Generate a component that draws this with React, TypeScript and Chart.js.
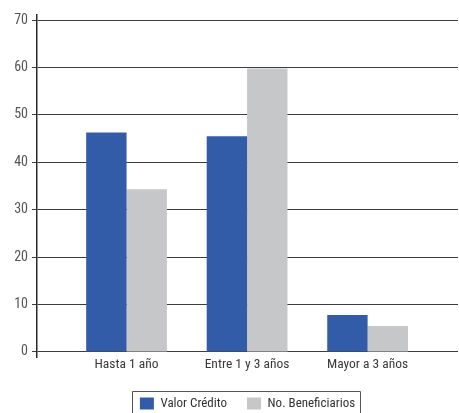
import React, { useEffect, useRef } from "react";
import { Chart, registerables } from "chart.js";

Chart.register(...registerables);

const categories = ["Hasta 1 año", "Entre 1 y 3 años", "Mayor a 3 años"];
const valorCredito = [46.3, 45.5, 7.8];
const noBeneficiarios = [34.3, 59.8, 5.5];
const yTicks = [0, 10, 20, 30, 40, 50, 60, 70];
const seriesNames = ["Valor Crédito", "No. Beneficiarios"];

const FONT = "'Roboto Condensed', sans-serif";

const legendBorder = {
  id: "legendBorder",
  afterDraw(chart: any) {
    const lg = chart.legend;
    if (!lg || !lg.legendHitBoxes || !lg.legendHitBoxes.length) return;
    const boxes = lg.legendHitBoxes;
    const first = boxes[0];
    const last = boxes[boxes.length - 1];
    const ctx = chart.ctx;
    ctx.save();
    ctx.strokeStyle = "#555";
    ctx.lineWidth = 1;
    const l = Math.round(first.left - 8) + 0.5;
    const r = Math.round(last.left + last.width + 5) + 0.5;
    const t = Math.round(first.top - 6) + 0.5;
    ctx.beginPath();
    ctx.moveTo(l, chart.height + 5);
    ctx.lineTo(l, t);
    ctx.lineTo(r, t);
    ctx.lineTo(r, chart.height + 5);
    ctx.stroke();
    ctx.restore();
  },
};

export default function App() {
  const ref = useRef<HTMLCanvasElement | null>(null);
  useEffect(() => {
    if (!ref.current) return;
    const chart = new Chart(ref.current, {
      type: "bar",
      data: {
        datasets: [
          {
            label: seriesNames[0],
            data: valorCredito.map((v, i) => ({ x: i, y: v })),
            backgroundColor: "#335CA8",
            borderWidth: 0,
          },
          {
            label: seriesNames[1],
            data: noBeneficiarios.map((v, i) => ({ x: i, y: v })),
            backgroundColor: "#C6C7C9",
            borderWidth: 0,
          },
        ],
      },
      plugins: [legendBorder],
      options: {
        animation: false,
        responsive: false,
        maintainAspectRatio: false,
        layout: { padding: { top: 15, right: 1, left: 0, bottom: -7 } },
        datasets: { bar: { categoryPercentage: 0.67, barPercentage: 1 } },
        scales: {
          x: {
            type: "linear",
            offset: false,
            min: -0.743,
            max: 2.75,
            grid: { display: false, drawTicks: false, offset: false },
            border: { display: false },
            afterBuildTicks: (axis: any) => {
              axis.ticks = categories.map((_, i) => ({ value: i }));
            },
            afterFit: (axis: any) => {
              axis.height = 20;
            },
            ticks: {
              padding: 0,
              color: "#3a3a3a",
              font: { family: FONT, size: 13.5 },
              maxRotation: 0,
              autoSkip: false,
              callback: (v: any) => categories[Math.round(Number(v))] ?? "",
            },
          },
          y: {
            min: -1.06,
            max: 71.06,
            afterBuildTicks: (axis: any) => {
              axis.ticks = yTicks.map((v) => ({ value: v }));
            },
            afterFit: (axis: any) => {
              axis.width = 37;
            },
            grid: {
              color: "#3c3c3c",
              lineWidth: 1,
              tickLength: 5,
              drawTicks: true,
            },
            border: { display: true, color: "#2a2a2a", width: 1.5 },
            ticks: {
              padding: 4,
              color: "#555",
              font: { family: FONT, size: 14 },
            },
          },
        },
        plugins: {
          tooltip: { enabled: false },
          legend: {
            position: "bottom",
            fullSize: false,
            labels: {
              boxWidth: 14,
              boxHeight: 12,
              padding: 20,
              color: "#333",
              font: { family: FONT, size: 13 },
            },
          },
        },
      },
    });
    return () => chart.destroy();
  }, []);
  return (
    <div style={{ position: "fixed", left: 0, top: 0, width: 459, height: 413, background: "#fff" }}>
      <canvas ref={ref} width={459} height={413} style={{ width: 459, height: 413, display: "block" }} />
    </div>
  );
}
